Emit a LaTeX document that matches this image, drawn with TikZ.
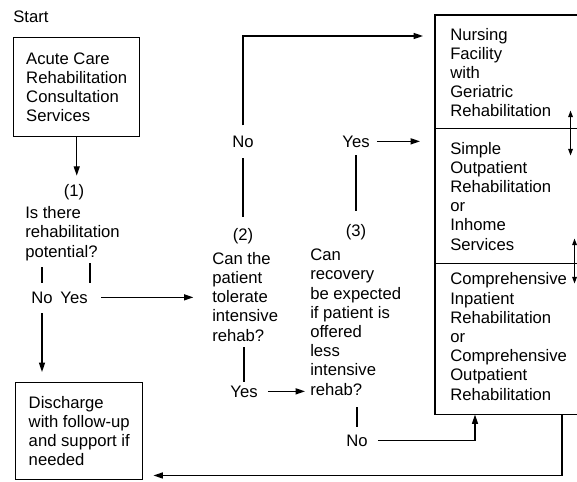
\documentclass[tikz,border=0pt]{standalone}
\usepackage{fontspec}
\setmainfont{Liberation Sans}
\usetikzlibrary{arrows.meta,calc}
\begin{document}
\begin{tikzpicture}[x=0.75pt,y=-0.75pt,
  every node/.style={font=\fontsize{12.5}{14.4}\selectfont},
  txt/.style={inner sep=0pt, align=left, anchor=base west},
  lbl/.style={inner sep=0pt, anchor=base},
  boxn/.style={draw, line width=1.1pt, align=left, anchor=north west, inner sep=0pt},
  sect/.style={inner sep=0pt, anchor=north west, minimum width=106.5pt},
  ln/.style={line width=1pt},
  arr/.style={line width=1pt, -{Triangle[length=7pt,width=4.5pt]}},
  darr/.style={line width=0.9pt, {Triangle[length=5pt,width=3.5pt]}-{Triangle[length=5pt,width=3.5pt]}},
  outl/.style={line width=1.1pt}
]
\useasboundingbox (0,0) rectangle (577,481);
% left column
\node[txt] (start) at (13,23) {Start};
\node[boxn, minimum width=94.5pt, minimum height=74.25pt] (acute) at (13,37) {Acute Care\\Rehabilitation\\Consultation\\Services};
\node[lbl] (n1) at (74,196) {(1)};
\node[txt] (q1) at (25,257) {Is there\\rehabilitation\\potential?};
\node[lbl] (no1) at (42,303) {No};
\node[lbl] (yes1) at (74,303) {Yes};
\node[boxn, minimum width=95.25pt, minimum height=72.75pt] (dis) at (15,382) {Discharge\\with follow-up\\and support if\\needed};
% middle columns
\node[lbl] (no2) at (243,147) {No};
\node[lbl] (n2) at (243,240) {(2)};
\node[txt] (q2) at (212,341) {Can the\\patient\\tolerate\\intensive\\rehab?};
\node[lbl] (yes2) at (244,397) {Yes};
\node[lbl] (yes3) at (356,147) {Yes};
\node[lbl] (n3) at (356,236) {(3)};
\node[txt] (q3) at (310,395) {Can\\recovery\\be expected\\if patient is\\offered\\less\\intensive\\rehab?};
\node[lbl] (no3) at (357,446) {No};
% right box
\node[sect, minimum height=84.75pt] (nf) at (435,15) {};
\node[sect, minimum height=101.25pt] (so) at (435,128) {};
\node[sect, minimum height=113.25pt] (ci) at (435,263) {};
\node[txt] (nft) at (450,117) {Nursing\\Facility\\with\\Geriatric\\Rehabilitation};
\node[txt] (sot) at (450,250) {Simple\\Outpatient\\Rehabilitation\\or\\Inhome\\Services};
\node[txt] (cit) at (450,400) {Comprehensive\\Inpatient\\Rehabilitation\\or\\Comprehensive\\Outpatient\\Rehabilitation};
\draw[outl] (nf.north east) -- (nf.north west) -- (ci.south west) -- (ci.south east);
\draw[outl] (nf.south west) -- (nf.south east);
\draw[outl] (so.south west) -- (so.south east);
% helper coordinates
\coordinate (c1) at ($(yes1.north east)+(2,0)$);
\coordinate (gTop) at ($(nf.north west)+(0,21)$);
\coordinate (m1) at ($(ci.south west)+(40,0)$);
\coordinate (r1) at ($(ci.south west)+(127,0)$);
\coordinate (dEnd) at ($(dis.south east)+(10,-5)$);
% connectors
\draw[arr, shorten >=6pt] (acute.south) -- (acute.south |- n1.north);
\draw[ln, shorten <=4.9pt, shorten >=6pt] (no1.north |- q1.south) -- (no1.north);
\draw[ln, shorten <=2pt, shorten >=6pt] (c1 |- q1.south) -- (c1);
\draw[arr, shorten <=7.5pt, shorten >=7.5pt] (no1.south) -- (no1.south |- dis.north);
\draw[arr, shorten <=10pt, shorten >=14pt] (yes1.east) -- (yes1.east -| q2.west);
\draw[ln, shorten <=8.25pt, shorten >=8.25pt] (n2.north) -- (no2.south);
\draw[arr, shorten <=7.5pt, shorten >=9pt] (no2.north) |- (gTop);
\draw[ln, shorten <=4.5pt, shorten >=2.25pt] (q2.south -| yes2) -- (yes2.north);
\draw[arr, shorten <=7.5pt, shorten >=3.75pt] (yes2.east) -- (yes2.east -| q3.west);
\draw[ln, shorten <=9.75pt, shorten >=6pt] (n3.north) -- (yes3.south);
\draw[arr, shorten <=5.25pt, shorten >=11.25pt] (yes3.east) -- (yes3.east -| so.west);
\draw[ln, shorten <=9pt, shorten >=5.25pt] (q3.south -| no3) -- (no3.north);
\draw[arr, shorten <=7.5pt] (no3.east) -| (m1);
\draw[arr] (r1) |- (dEnd);
\draw[darr] ($(nf.south east)+(-7,-18)$) -- ($(nf.south east)+(-7,27)$);
\draw[darr] ($(so.south east)+(-3,-25)$) -- ($(so.south east)+(-3,20)$);
\end{tikzpicture}
\end{document}
